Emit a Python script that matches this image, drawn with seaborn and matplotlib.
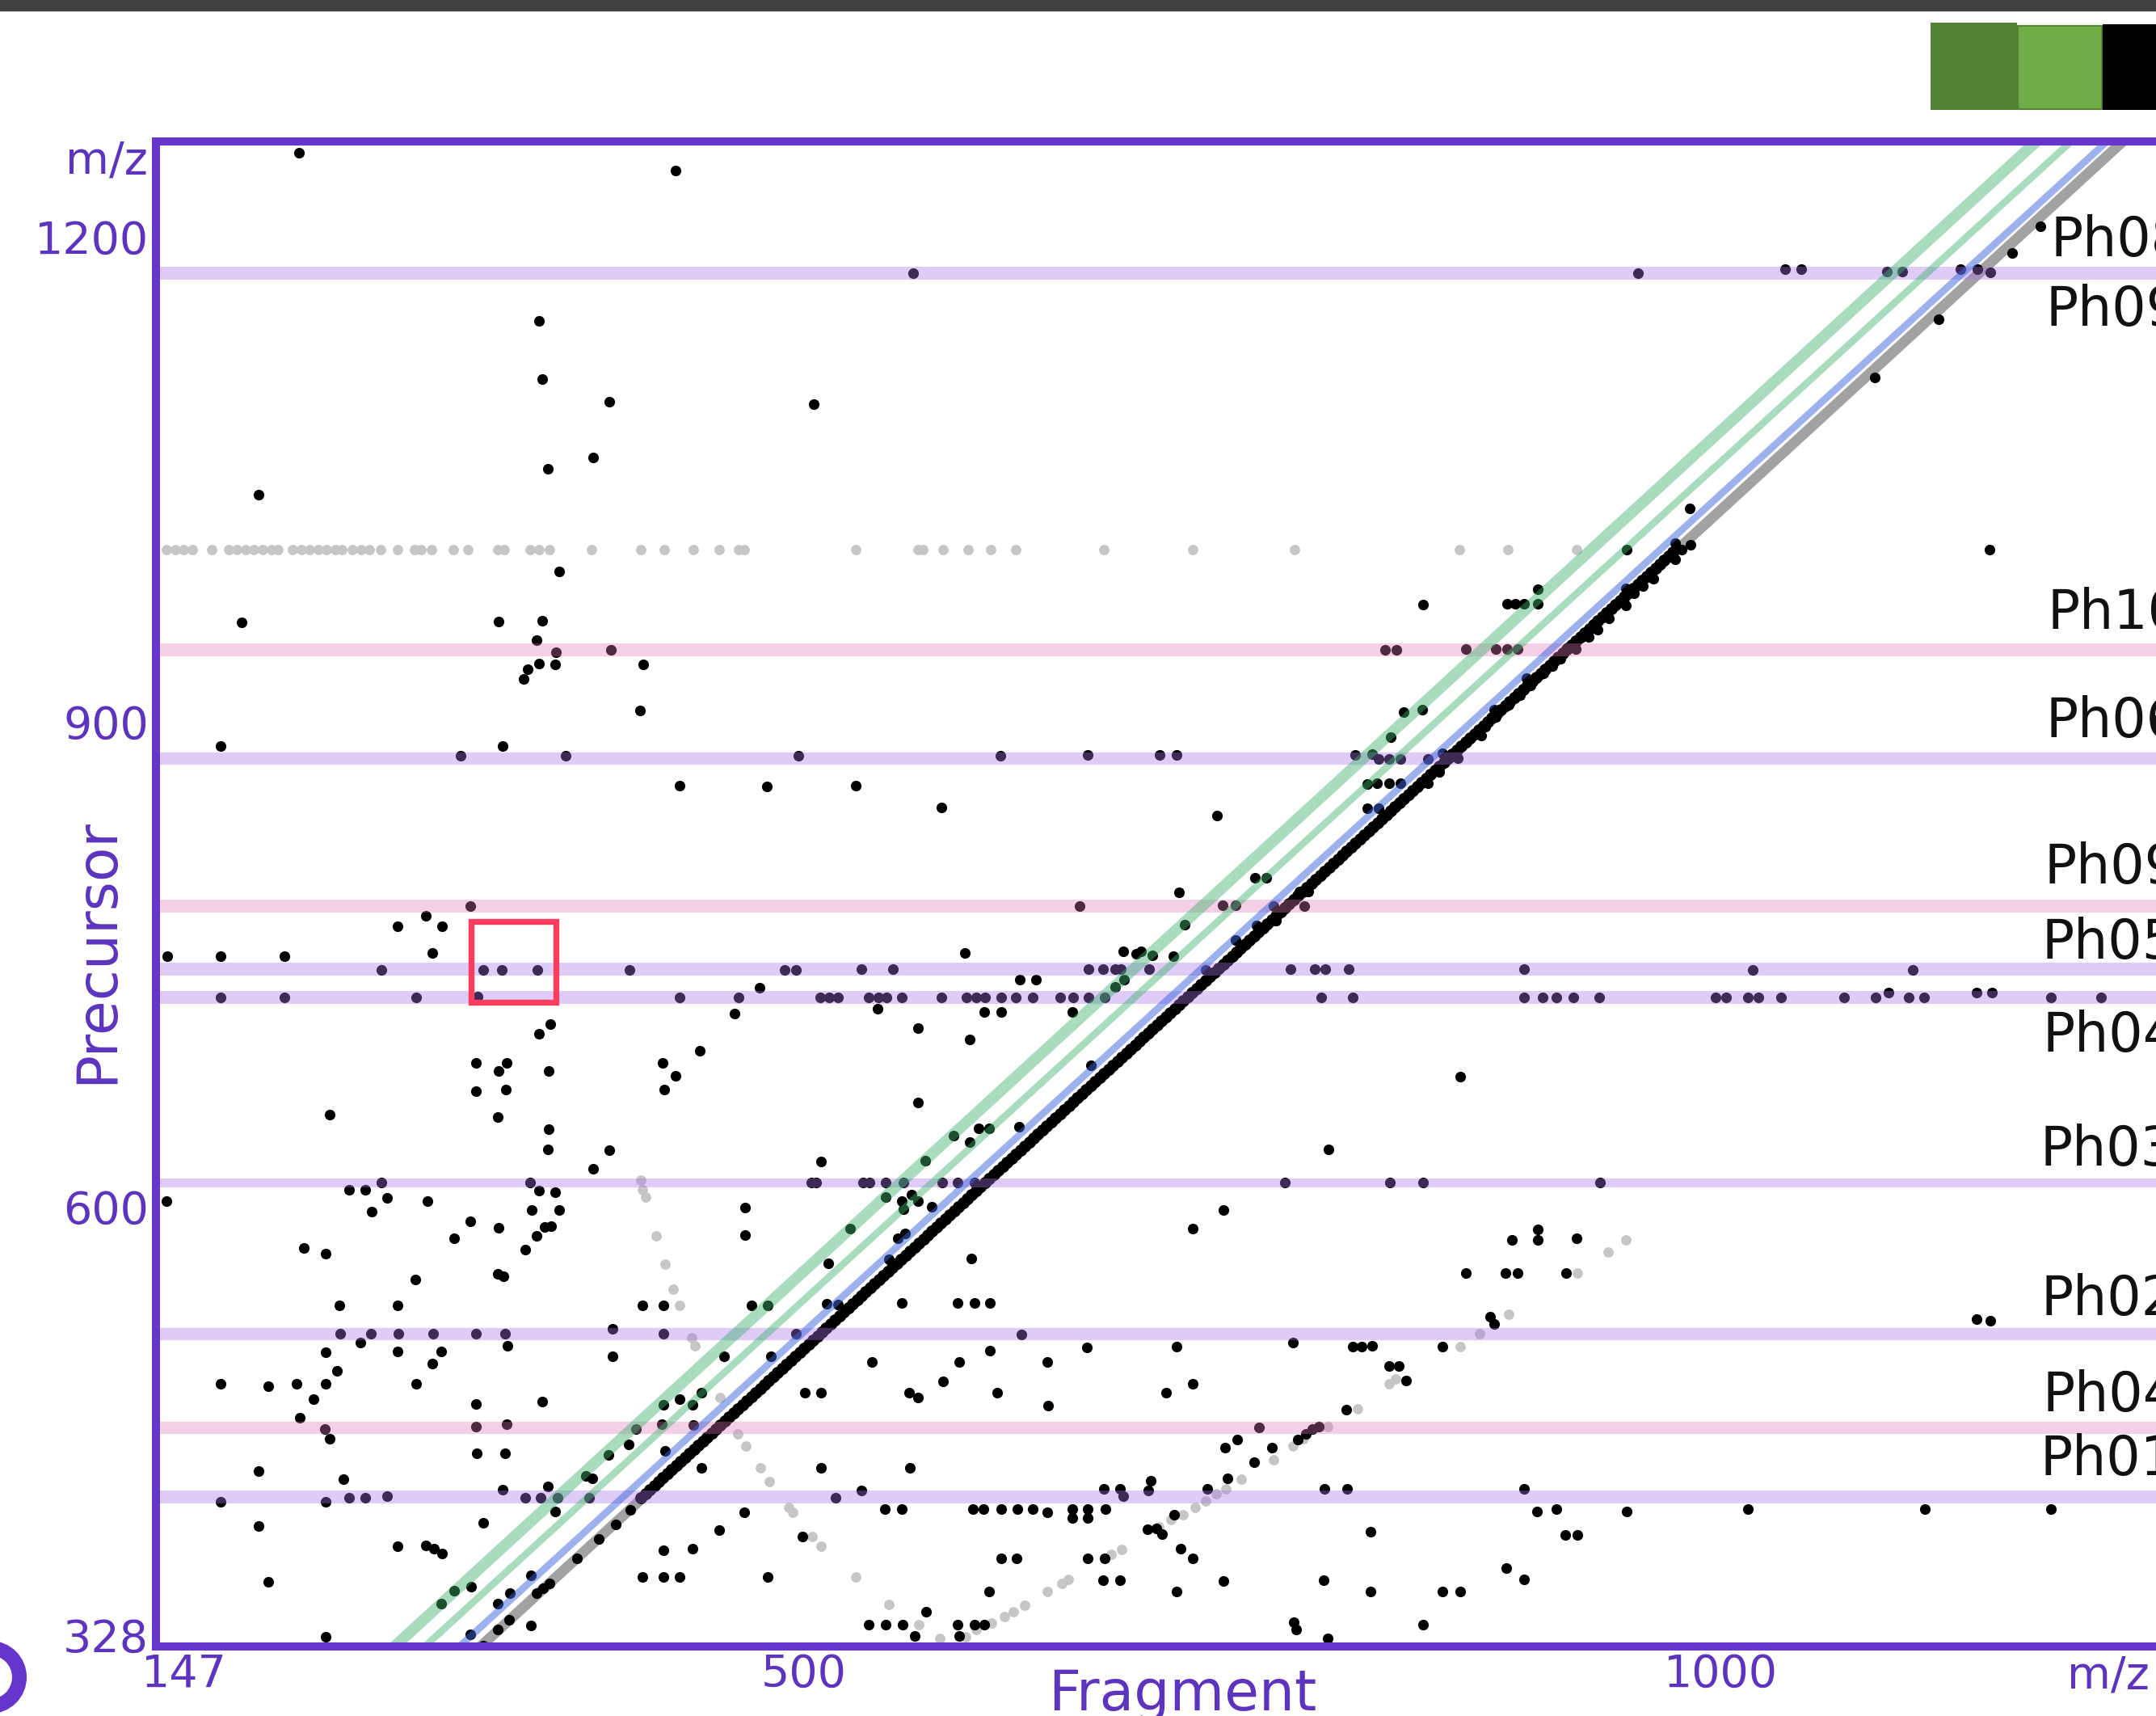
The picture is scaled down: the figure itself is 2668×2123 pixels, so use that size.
import matplotlib
matplotlib.use("Agg")
import matplotlib.pyplot as plt
import seaborn as sns
import pandas as pd
from matplotlib.patches import Rectangle, Circle
from matplotlib.transforms import ScaledTranslation

# ---------------- data (fragment m/z, precursor m/z) ----------------
x_ticks = [147, 500, 1000]
y_ticks = [328, 600, 900, 1200]
x_range = [147, 1237.3]
y_range = [328, 1259]

band_names = ["Ph08", "Ph10", "Ph06", "Ph09", "Ph05", "Ph04", "Ph03", "Ph02", "Ph04", "Ph01"]
band_prec = [1177.5, 944.6, 877.5, 785.9, 746.8, 729.4, 614.9, 521.4, 463.7, 420.5]
band_kind = ["lav", "pink", "lav", "pink", "lav", "lav", "lav", "lav", "pink", "lav"]
band_thick = [11.5, 11.5, 11.0, 11.5, 11.5, 11.5, 7.9, 11.0, 11.0, 11.5]

label_text = ["Ph08", "Ph09", "Ph10", "Ph06", "Ph09", "Ph05", "Ph04", "Ph03", "Ph02", "Ph04", "Ph01"]
label_frag = [1179.6, 1177.2, 1178.1, 1177.2, 1176.1, 1175.0, 1175.4, 1174.1, 1174.5, 1175.4, 1174.1]
label_prec = [1188.0, 1145.2, 957.3, 890.4, 799.8, 753.3, 695.9, 625.7, 532.9, 473.7, 433.8]

# neutral-loss diagonals
diag_prec = [318, 1270]
diag_gray = [314.3, 1229.8]
diag_blue = [302.8, 1221.2]
diag_green2 = [283.9, 1201.6]
diag_green1 = [267.4, 1182.7]

highlight_frag = [318.8, 365.1]
highlight_prec = [726.5, 776.5]

pts_upper_left = [
    (225.0, 1252.2), (430.2, 1241.1), (356.0, 1147.9), (357.7, 1112.2), (394.3, 1097.8),
    (505.5, 1096.3), (385.4, 1063.3), (360.7, 1056.7), (203.1, 1040.5), (366.8, 993.2),
    (193.7, 961.4), (333.7, 962.0), (357.7, 962.3), (354.6, 950.3), (365.1, 943.1),
    (395.0, 944.6), (356.0, 935.9), (364.4, 935.3), (349.5, 932.3), (347.6, 926.3),
    (412.7, 935.6), (410.9, 906.8), (182.1, 884.9), (336.0, 884.9), (312.9, 878.9),
    (370.5, 878.9), (497.1, 878.9), (432.3, 860.4), (480.1, 859.8)]

pts_upper_mid = [
    (559.6, 1177.6), (837.8, 972.5), (817.1, 944.6), (823.1, 944.6), (861.1, 945.2),
    (827.3, 905.9), (837.3, 907.7), (820.1, 890.3), (607.4, 878.9), (655.0, 879.5),
    (694.2, 879.5), (703.5, 879.5), (800.7, 879.5), (810.0, 880.2), (813.6, 876.8),
    (819.4, 876.8), (825.2, 876.8), (840.4, 876.8), (848.5, 880.7), (856.7, 877.7),
    (528.4, 860.7), (575.0, 847.2), (807.3, 861.3), (812.8, 861.9), (819.4, 861.9),
    (825.2, 861.9), (807.3, 846.3), (813.6, 846.3), (725.2, 841.8), (840.4, 861.9),
    (846.7, 868.8), (745.9, 803.7), (752.2, 803.7), (704.7, 794.7)]

pts_upper_right = [
    (1174.3, 1206.6), (1158.9, 1190.1), (955.0, 1177.6), (1035.1, 1180.0), (1044.0, 1180.0),
    (1090.6, 1178.5), (1098.9, 1178.5), (1130.7, 1180.0), (1140.1, 1180.0), (1147.2, 1178.2),
    (1118.9, 1149.1), (1083.8, 1113.1), (983.0, 1032.2), (975.3, 1010.3), (978.8, 1006.7),
    (983.5, 1009.7), (975.3, 1000.7), (948.6, 1006.4), (963.2, 988.7), (957.6, 984.2),
    (952.9, 979.7), (948.2, 982.7), (948.2, 972.2), (900.4, 982.1), (883.4, 973.1),
    (888.1, 973.1), (892.8, 973.1), (900.4, 973.1), (939.2, 963.8), (932.9, 957.2),
    (928.2, 952.7), (877.5, 945.2), (883.4, 945.2), (889.3, 945.2), (916.4, 946.1),
    (921.1, 945.2), (912.8, 939.2), (908.1, 934.7), (903.4, 930.2), (894.0, 927.2),
    (896.4, 922.7), (890.5, 916.7), (884.6, 910.7), (876.3, 907.7), (877.5, 903.2),
    (871.6, 897.2), (869.3, 891.3), (1146.5, 1006.4)]

pts_lower_left = [
    (318.5, 785.9), (294.2, 780.2), (278.6, 773.5), (302.9, 773.5), (153.2, 755.1),
    (182.1, 755.1), (217.1, 755.1), (297.7, 756.9), (269.8, 746.6), (325.3, 746.6),
    (335.7, 746.6), (355.1, 746.6), (405.0, 746.6), (489.7, 746.6), (496.0, 746.6),
    (182.1, 729.4), (217.1, 729.4), (288.9, 729.4), (322.2, 730.0), (432.5, 729.4),
    (464.5, 729.4), (475.9, 735.7), (462.4, 719.4), (361.9, 712.8), (356.0, 707.0),
    (443.3, 696.4), (321.5, 688.9), (333.7, 684.0), (338.1, 689.2), (361.2, 684.0),
    (321.5, 671.7), (337.9, 672.3), (423.4, 688.9), (430.4, 681.0), (423.9, 672.6),
    (241.8, 657.1), (333.4, 655.6), (361.2, 648.1), (360.7, 635.7), (394.3, 634.8),
    (385.4, 623.3), (269.8, 615.1), (350.9, 615.1), (504.4, 615.1), (252.3, 610.3),
    (260.9, 610.3), (272.8, 605.5), (152.7, 603.3), (295.0, 603.3), (264.6, 597.0),
    (356.0, 610.0), (364.7, 609.1), (366.8, 597.9), (351.9, 597.9), (318.5, 590.9),
    (333.7, 587.0), (309.4, 580.7), (354.4, 581.9), (359.1, 587.3), (362.6, 587.9),
    (348.1, 573.7), (227.8, 574.6), (239.4, 571.0), (288.4, 555.0), (333.4, 558.3),
    (336.5, 557.1), (468.2, 599.7), (468.2, 582.5), (247.1, 539.2), (278.9, 539.2),
    (412.0, 539.2), (423.7, 539.2), (471.7, 539.2), (480.6, 539.2),
    (247.4, 521.4), (264.2, 521.4), (279.1, 521.4), (298.2, 521.4), (321.5, 521.4),
    (337.4, 521.4), (423.7, 521.4), (496.0, 521.4), (395.9, 524.4),
    (258.3, 516.0), (338.8, 513.8), (239.4, 509.9), (278.6, 510.5), (302.6, 510.5),
    (297.7, 503.0), (395.9, 507.5), (456.6, 507.5), (482.2, 507.5), (245.5, 498.4),
    (182.1, 490.6), (208.2, 488.8), (223.8, 490.6), (239.7, 490.6), (288.9, 490.6),
    (232.9, 480.9), (225.2, 469.7), (357.4, 479.4), (321.5, 477.9), (444.2, 485.1),
    (432.5, 481.2), (423.7, 477.6), (439.5, 477.6), (500.9, 485.1),
    (239.0, 462.5), (321.5, 463.9), (338.3, 465.5), (408.8, 462.5), (422.7, 465.5),
    (440.0, 464.9), (241.8, 456.7), (404.6, 452.8), (393.8, 446.7), (424.4, 448.9),
    (444.2, 438.3), (322.0, 447.3), (337.4, 447.3), (203.1, 436.5), (249.0, 431.6),
    (381.2, 433.7), (384.7, 432.2), (360.7, 427.1), (335.8, 425.0),
    (182.1, 417.4), (239.7, 417.4), (252.3, 420.1), (261.1, 420.1), (272.8, 421.0),
    (348.1, 420.1), (356.7, 420.1), (366.1, 420.1), (383.1, 420.1),
    (364.4, 411.7), (203.1, 402.6), (325.3, 404.4), (467.5, 411.1), (454.0, 400.2),
    (499.5, 396.0), (278.6, 389.9), (294.2, 390.5), (298.5, 388.4), (303.1, 385.4),
    (423.7, 387.5), (439.3, 388.4), (208.2, 368.1), (412.0, 371.2), (423.7, 371.2),
    (432.5, 371.2), (480.3, 371.2), (239.7, 334.0), (302.6, 354.5), (309.6, 362.7),
    (318.7, 364.8), (340.0, 361.2), (351.4, 371.8), (333.4, 354.5), (351.4, 340.9),
    (318.3, 335.5),
    (325.3, 328.5), (333.4, 338.5), (339.3, 344.6), (354.4, 361.2), (357.9, 364.2),
    (361.4, 367.2), (376.6, 382.4), (388.2, 394.4), (397.6, 403.5), (405.7, 412.6)]

pts_lower_mid = [
    (650.5, 785.9), (728.4, 786.5), (735.4, 786.5), (756.4, 785.9), (763.4, 785.9),
    (772.8, 785.9), (770.4, 795.0), (775.1, 795.0), (707.9, 774.7), (674.3, 757.8),
    (681.3, 756.6), (684.1, 757.8), (690.0, 755.7), (701.6, 754.8), (587.8, 757.2),
    (747.1, 773.8), (757.6, 776.9), (735.4, 764.8), (719.1, 746.6),
    (531.6, 747.2), (548.9, 747.2), (655.2, 747.2), (663.1, 747.2), (670.1, 747.2),
    (672.9, 747.2), (688.3, 747.2), (765.7, 747.2), (778.6, 747.2), (784.4, 747.2),
    (797.2, 747.2), (674.8, 740.6), (670.1, 736.0), (617.9, 740.3), (626.8, 740.3),
    (509.2, 729.4), (513.9, 729.4), (518.6, 729.4), (535.4, 729.4), (540.7, 729.4),
    (545.4, 729.4), (553.5, 729.4), (575.0, 729.4), (589.0, 729.4), (594.3, 729.4),
    (599.0, 729.4), (607.6, 729.4), (615.8, 729.4), (625.1, 729.4), (639.8, 729.4),
    (646.8, 729.4), (655.4, 729.4), (664.3, 729.4), (782.1, 729.4), (799.3, 729.4),
    (540.3, 722.4), (598.5, 720.3), (607.6, 720.3), (646.4, 720.3), (562.4, 710.6),
    (590.4, 703.4), (656.8, 687.7), (857.9, 680.7), (562.4, 664.7), (786.0, 635.4),
    (509.7, 628.1), (595.5, 648.4), (601.3, 648.4), (590.4, 640.2), (582.0, 643.8),
    (617.7, 649.6), (566.6, 628.4),
    (506.9, 615.1), (532.6, 615.1), (536.0, 615.1), (544.7, 615.1), (554.7, 615.1),
    (575.7, 615.1), (583.9, 615.1), (593.2, 615.1), (762.3, 615.1), (819.9, 615.1),
    (837.6, 615.1),
    (544.9, 606.0), (553.5, 603.6), (558.7, 607.6), (562.4, 603.6), (554.7, 598.5),
    (569.9, 600.0), (525.6, 586.4), (551.2, 580.4), (555.4, 583.4), (729.1, 598.2),
    (712.1, 586.7), (591.3, 568.0), (860.9, 559.2), (513.4, 565.2), (546.5, 567.7),
    (512.7, 540.2), (518.6, 539.5), (553.8, 540.7), (583.9, 540.7), (593.2, 540.7),
    (601.8, 540.7), (618.8, 521.1), (766.9, 516.0), (799.6, 513.5), (804.2, 513.5),
    (810.1, 514.2), (848.5, 513.5), (654.5, 513.2), (703.3, 513.5), (601.8, 510.8),
    (537.2, 504.2), (585.0, 504.2), (632.8, 504.2), (576.2, 492.1), (712.1, 490.6),
    (509.7, 485.1), (557.7, 485.1), (562.4, 482.1), (605.8, 485.1), (697.7, 485.1),
    (633.5, 477.0), (819.4, 501.5), (824.5, 501.5), (828.3, 492.7), (796.1, 474.6),
    (748.3, 463.7), (769.3, 455.8), (773.9, 459.4), (777.4, 462.4), (780.9, 464.0),
    (729.6, 451.0), (736.6, 455.8), (755.3, 451.0), (745.5, 442.2), (731.2, 432.2),
    (509.7, 438.3), (558.2, 438.3), (531.4, 424.7), (517.4, 419.8), (663.8, 425.3),
    (672.5, 425.3), (674.3, 421.0), (687.9, 424.7), (689.5, 430.7), (720.3, 425.3),
    (784.2, 425.3), (796.5, 425.3),
    (544.2, 413.2), (553.5, 413.2), (592.5, 413.2), (598.3, 413.2), (607.6, 413.2),
    (616.5, 413.2), (625.1, 413.2), (633.1, 411.1), (646.4, 413.2), (655.0, 413.2),
    (664.5, 413.2), (646.4, 407.4), (655.0, 407.4),
    (701.9, 409.5), (687.6, 400.5), (692.3, 401.1), (695.3, 397.5), (809.1, 399.0),
    (705.6, 388.4), (712.1, 382.4), (607.6, 382.4), (616.0, 382.4), (655.0, 382.4),
    (664.3, 382.4), (663.1, 369.0), (672.5, 369.0), (729.1, 368.7), (783.7, 369.0),
    (809.3, 362.1), (848.5, 361.8), (857.9, 362.1), (601.3, 361.8), (703.3, 362.1),
    (566.8, 349.7),
    (535.6, 341.5), (544.9, 341.5), (554.2, 341.5), (583.9, 341.5), (593.2, 341.5),
    (598.5, 341.5), (560.5, 334.6), (585.0, 334.6), (767.4, 343.0), (768.5, 338.5),
    (785.6, 333.1), (837.6, 341.5)]

pts_lower_right = [
    (892.6, 747.2), (1017.6, 746.6), (1104.8, 746.6),
    (892.6, 729.4), (903.0, 729.4), (910.5, 729.4), (919.9, 729.4), (933.6, 729.4),
    (997.2, 729.4), (1003.0, 729.4), (1014.8, 729.4), (1020.7, 729.4), (1033.0, 729.4),
    (1067.1, 729.4), (1084.3, 729.4), (1102.4, 729.4), (1110.7, 729.4), (1180.1, 729.4),
    (1207.2, 729.4), (1091.4, 732.4), (1139.6, 732.4), (1147.9, 732.4),
    (934.0, 615.1), (886.2, 579.4), (900.4, 585.8), (900.4, 579.4), (921.6, 580.7),
    (882.7, 559.2), (889.3, 559.2), (915.7, 559.2), (874.5, 532.0), (876.3, 527.5),
    (1139.6, 530.5), (1147.2, 529.3), (892.6, 425.3), (899.9, 411.7), (910.5, 413.2),
    (948.6, 411.7), (1014.8, 413.2), (1111.1, 413.2), (1180.1, 413.2), (915.2, 396.9),
    (921.8, 396.9), (882.9, 376.3), (892.6, 369.3)]

# dense run of matches along the precursor diagonal (two interleaved read-outs)
prec_diag_a = [420, 425, 430, 435, 440, 445, 450, 455, 460, 465, 470, 475, 480, 485, 490,
               495, 500, 505, 510, 515, 520, 525, 530, 535, 540, 545, 550, 555, 560, 565,
               570, 575, 580, 585, 590, 595, 600, 605, 610, 615, 620, 625, 630, 635, 640,
               645, 650, 655, 660, 665, 670, 675, 680, 685, 690, 695, 700, 705, 710, 715,
               720, 725, 730, 735, 740, 745, 750, 755, 760, 765, 770, 775, 780, 785, 790,
               795, 800, 805, 810, 815, 820, 825, 830, 835, 840, 845, 850, 855, 860, 865,
               870, 875, 880, 885, 890, 895, 900, 905, 910, 915, 920, 925, 930, 935, 940,
               945, 950, 955, 960, 965, 970, 975, 980, 985, 990, 995, 1000, 1005]
frag_diag_a = [411.4, 416.2, 421.0, 425.8, 430.6, 435.4, 440.3, 445.1, 449.9, 454.7, 459.5,
               464.3, 469.1, 473.9, 478.7, 483.5, 488.3, 493.1, 497.9, 502.8, 507.6, 512.4,
               517.2, 522.0, 526.8, 531.6, 536.4, 541.2, 546.0, 550.8, 555.7, 560.5, 565.3,
               570.1, 574.9, 579.7, 584.5, 589.3, 594.1, 598.9, 603.7, 608.5, 613.4, 618.2,
               623.0, 627.8, 632.6, 637.4, 642.2, 647.0, 651.8, 656.6, 661.4, 666.2, 671.1,
               675.9, 680.7, 685.5, 690.3, 695.1, 699.9, 704.7, 709.5, 714.3, 719.1, 723.9,
               728.8, 733.6, 738.4, 743.2, 748.0, 752.8, 757.6, 762.4, 767.2, 772.0, 776.8,
               781.6, 786.5, 791.3, 796.1, 800.9, 805.7, 810.5, 815.3, 820.1, 824.9, 829.7,
               834.5, 839.4, 844.2, 849.0, 853.8, 858.6, 863.4, 868.2, 873.0, 877.8, 882.6,
               887.4, 892.3, 897.1, 901.9, 906.7, 911.5, 916.3, 921.1, 925.9, 930.7, 935.5,
               940.3, 945.1, 950.0, 954.8, 959.6, 964.4, 969.2, 974.0]
prec_diag_b = [422.5, 427.5, 432.5, 437.5, 442.5, 447.5, 452.5, 457.5, 462.5, 467.5, 472.5,
               477.5, 482.5, 487.5, 492.5, 497.5, 502.5, 507.5, 512.5, 517.5, 522.5, 527.5,
               532.5, 537.5, 542.5, 547.5, 552.5, 557.5, 562.5, 567.5, 572.5, 577.5, 582.5,
               587.5, 592.5, 597.5, 602.5, 607.5, 612.5, 617.5, 622.5, 627.5, 632.5, 637.5,
               642.5, 647.5, 652.5, 657.5, 662.5, 667.5, 672.5, 677.5, 682.5, 687.5, 692.5,
               697.5, 702.5, 707.5, 712.5, 717.5, 722.5, 727.5, 732.5, 737.5, 742.5, 747.5,
               752.5, 757.5, 762.5, 767.5, 772.5, 777.5, 782.5, 787.5, 792.5, 797.5, 802.5,
               807.5, 812.5, 817.5, 822.5, 827.5, 832.5, 837.5, 842.5, 847.5, 852.5, 857.5,
               862.5, 867.5, 872.5, 877.5, 882.5, 887.5, 892.5, 897.5, 902.5, 907.5, 912.5,
               917.5, 922.5, 927.5, 932.5, 937.5, 942.5, 947.5, 952.5, 957.5, 962.5, 967.5,
               972.5, 977.5, 982.5, 987.5, 992.5, 997.5, 1002.5]
frag_diag_b = [413.8, 418.6, 423.4, 428.2, 433.0, 437.8, 442.7, 447.5, 452.3, 457.1, 461.9,
               466.7, 471.5, 476.3, 481.1, 485.9, 490.7, 495.5, 500.3, 505.2, 510.0, 514.8,
               519.6, 524.4, 529.2, 534.0, 538.8, 543.6, 548.4, 553.2, 558.1, 562.9, 567.7,
               572.5, 577.3, 582.1, 586.9, 591.7, 596.5, 601.3, 606.1, 610.9, 615.8, 620.6,
               625.4, 630.2, 635.0, 639.8, 644.6, 649.4, 654.2, 659.0, 663.8, 668.6, 673.5,
               678.3, 683.1, 687.9, 692.7, 697.5, 702.3, 707.1, 711.9, 716.7, 721.5, 726.3,
               731.2, 736.0, 740.8, 745.6, 750.4, 755.2, 760.0, 764.8, 769.6, 774.4, 779.2,
               784.0, 788.9, 793.7, 798.5, 803.3, 808.1, 812.9, 817.7, 822.5, 827.3, 832.1,
               836.9, 841.8, 846.6, 851.4, 856.2, 861.0, 865.8, 870.6, 875.4, 880.2, 885.0,
               889.8, 894.7, 899.5, 904.3, 909.1, 913.9, 918.7, 923.5, 928.3, 933.1, 937.9,
               942.7, 947.5, 952.4, 957.2, 962.0, 966.8, 971.6]

# light grey (unmatched) points
frag_grey_row = [152.7, 157.4, 162.0, 166.7, 177.2, 186.5, 191.2, 195.8, 200.5, 205.2, 209.8,
                 213.3, 221.5, 226.2, 230.8, 235.5, 240.1, 244.8, 248.3, 254.1, 258.8, 263.5,
                 269.3, 278.6, 288.0, 291.5, 297.3, 309.0, 317.1, 333.4, 336.9, 350.9, 355.6,
                 361.4, 384.5, 411.5, 423.9, 440.0, 454.0, 464.7, 467.5, 528.4, 562.2, 565.2,
                 576.2, 589.9, 602.0, 615.8, 663.8, 712.3, 767.8, 857.6, 883.9, 921.6]
prec_grey_row = [1006.4] * len(frag_grey_row)

pts_grey_curve = [
    (411.1, 616.6), (412.2, 610.6), (413.9, 606.0), (419.7, 581.9), (424.4, 564.3),
    (429.0, 549.2), (432.5, 539.2), (439.1, 519.0), (440.7, 513.8), (454.7, 482.1),
    (464.0, 459.4), (468.7, 451.9), (476.4, 438.3), (481.5, 430.1), (492.0, 414.1),
    (494.3, 411.1), (504.8, 396.0), (509.5, 389.9), (528.4, 371.2), (546.5, 354.2),
    (562.9, 341.5), (574.5, 333.1), (588.5, 334.0), (594.3, 338.5), (602.5, 342.4),
    (609.5, 346.7), (614.6, 349.7), (620.7, 353.6), (632.8, 361.8), (641.0, 367.2),
    (644.5, 369.3), (667.8, 384.8), (673.6, 387.8), (693.5, 402.0), (700.5, 406.5),
    (707.0, 409.5), (713.3, 414.1), (719.1, 418.0), (724.9, 422.3), (730.1, 425.3),
    (738.5, 431.3), (756.4, 443.4), (766.9, 451.9), (772.7, 456.4), (785.6, 464.0),
    (801.9, 475.2), (819.4, 490.6), (822.9, 493.3), (857.9, 513.5), (868.4, 521.4),
    (884.6, 533.5), (921.8, 559.2), (938.8, 572.2), (948.2, 579.4)]

# ---------------- figure ----------------
W, H = 2668, 2123
PURPLE = "#6636cc"
TXT = "#5c34be"

sns.set_theme(style="white")
plt.rcParams["font.family"] = ["DejaVu Sans"]

fig = plt.figure(figsize=(W / 100, H / 100), dpi=100)
fig.patch.set_facecolor("white")
ax = fig.add_axes([193 / W, (H - 2037) / H, (W - 193) / W, (2037 - 175) / H])
ax.set_facecolor("white")

black = pd.DataFrame(pts_upper_left + pts_upper_mid + pts_upper_right +
                     pts_lower_left + pts_lower_mid + pts_lower_right,
                     columns=["fragment", "precursor"])
diag = pd.DataFrame({"fragment": frag_diag_a + frag_diag_b,
                     "precursor": prec_diag_a + prec_diag_b})
grey = pd.concat([pd.DataFrame({"fragment": frag_grey_row, "precursor": prec_grey_row}),
                  pd.DataFrame(pts_grey_curve, columns=["fragment", "precursor"])])

# grey diagonal underneath the points
sns.lineplot(x=diag_gray, y=diag_prec, color="#a2a2a2", lw=9.3, sort=False,
             estimator=None, ax=ax, zorder=0.5, solid_capstyle="butt")

sns.scatterplot(data=grey, x="fragment", y="precursor", color="#c6c6c6", s=85,
                linewidth=0, ax=ax, zorder=1, legend=False)
sns.scatterplot(data=black, x="fragment", y="precursor", color="black", s=90,
                linewidth=0, ax=ax, zorder=1.2, legend=False)
sns.scatterplot(data=diag, x="fragment", y="precursor", color="black", s=115,
                linewidth=0, ax=ax, zorder=1.2, legend=False)

# precursor bands (translucent, over the points)
band_col = {"lav": (168 / 255, 115 / 255, 235 / 255), "pink": (226 / 255, 121 / 255, 184 / 255)}
band_alpha = {"lav": 0.37, "pink": 0.35}
for yv, kind, th in zip(band_prec, band_kind, band_thick):
    ax.axhline(yv, color=band_col[kind], alpha=band_alpha[kind], lw=th, zorder=2)

# coloured neutral-loss diagonals
sns.lineplot(x=diag_blue, y=diag_prec, color=(60 / 255, 100 / 255, 220 / 255), alpha=0.5,
             lw=6.3, sort=False, estimator=None, ax=ax, zorder=3, solid_capstyle="butt")
sns.lineplot(x=diag_green2, y=diag_prec, color=(65 / 255, 178 / 255, 111 / 255), alpha=0.45,
             lw=6.3, sort=False, estimator=None, ax=ax, zorder=3, solid_capstyle="butt")
sns.lineplot(x=diag_green1, y=diag_prec, color=(65 / 255, 178 / 255, 111 / 255), alpha=0.45,
             lw=10, sort=False, estimator=None, ax=ax, zorder=3, solid_capstyle="butt")

# highlight box
ax.add_patch(Rectangle((highlight_frag[0], highlight_prec[0]),
                       highlight_frag[1] - highlight_frag[0],
                       highlight_prec[1] - highlight_prec[0],
                       fill=False, ec="#ff3d5f", lw=5.3, zorder=6))

# band labels
for t, xf, yp in zip(label_text, label_frag, label_prec):
    ax.text(xf, yp, t, fontsize=48, color="#111111", ha="left", va="baseline",
            clip_on=False, zorder=7)

ax.set_xlim(*x_range)
ax.set_ylim(*y_range)
ax.set_xticks(x_ticks)
ax.set_xticklabels([str(v) for v in x_ticks])
ax.set_yticks(y_ticks)
ax.set_yticklabels([str(v) for v in y_ticks])
ax.tick_params(axis="both", length=0, labelsize=40, labelcolor=TXT)
ax.tick_params(axis="y", pad=6.5)
ax.tick_params(axis="x", pad=5.5)
ax.grid(False)

for side in ["top", "left", "bottom"]:
    ax.spines[side].set_visible(True)
    ax.spines[side].set_color(PURPLE)
    ax.spines[side].set_linewidth(7.2)
    ax.spines[side].set_zorder(8)
ax.spines["right"].set_visible(False)

ax.set_xlabel("Fragment", fontsize=50, color=TXT)
ax.xaxis.set_label_coords(0.5131, -0.0140)
ax.set_ylabel("Precursor", fontsize=50, color=TXT, va="center")
ax.yaxis.set_label_coords(-0.0295, 0.4619)

# unit labels
fig.text(183 / W, 1 - 215 / H, "m/z", ha="right", va="baseline", fontsize=40, color=TXT)
fig.text(2660 / W, 1 - 2089 / H, "m/z", ha="right", va="baseline", fontsize=40, color=TXT)

# window chrome: top bar, colour swatches, corner icon
fig.add_artist(Rectangle((0, 1 - 13 / H), 1, 13 / H, transform=fig.transFigure,
                         color="#404040", zorder=10))
fig.add_artist(Rectangle((2389 / W, 1 - 136 / H), 107 / W, 108 / H, transform=fig.transFigure,
                         facecolor="#548235", edgecolor="none", zorder=10))
fig.add_artist(Rectangle((2497 / W, 1 - 135 / H), 104 / W, 103 / H, transform=fig.transFigure,
                         facecolor="#70ad47", edgecolor="#548235", lw=1.5, zorder=10))
fig.add_artist(Rectangle((2602 / W, 1 - 136 / H), 66 / W, 106 / H, transform=fig.transFigure,
                         facecolor="black", edgecolor="none", zorder=10))
fig.add_artist(Circle((-12 / 100, (H - 2075) / 100), 0.36, transform=fig.dpi_scale_trans,
                      fill=False, ec=PURPLE, lw=13, zorder=10))

# small offsets of two tick labels, as in the original layout
fig.canvas.draw()
xl = ax.get_xticklabels()[0]
xl.set_transform(xl.get_transform() + ScaledTranslation(0.35, 0, fig.dpi_scale_trans))
yl = ax.get_yticklabels()[0]
yl.set_transform(yl.get_transform() + ScaledTranslation(0, 0.14, fig.dpi_scale_trans))

fig.savefig("out.png", dpi=100, facecolor="white")
